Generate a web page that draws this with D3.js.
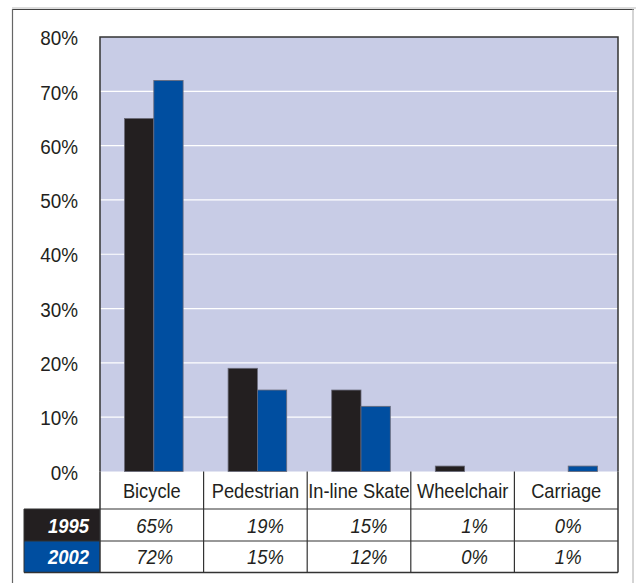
<!DOCTYPE html>
<html><head><meta charset="utf-8">
<script src="https://cdn.jsdelivr.net/npm/d3@7"></script>
<style>body{margin:0;background:#fff;}svg{display:block;font-family:"Liberation Sans",Arial,sans-serif;}</style>
</head><body>
<script>
const categories = ["Bicycle","Pedestrian","In-line Skate","Wheelchair","Carriage"];
const years = ["1995","2002"];
const values1995 = [65,19,15,1,0];
const values2002 = [72,15,12,0,1];
const yTicks = [0,10,20,30,40,50,60,70,80];
const colors = {"1995":"#231f20","2002":"#004ea0"};

const W=636,H=583;
const svg=d3.select("body").append("svg").attr("width",W).attr("height",H);
const L=100,R=618,T=37,B=471.5;
const x=d3.scaleBand().domain(categories).range([L,R]);
const xi=d3.scaleBand().domain(years).range([0,58.6]);
const y=d3.scaleLinear().domain([0,80]).range([B,T]);
const SX=0.9, FS=21;
function place(sel, fx, fy, sx){
  sel.attr("transform",(d,i)=>`translate(${fx(d,i)},${fy(d,i)}) scale(${sx||SX},1)`);
  return sel;
}

// outer frame
svg.append("line").attr("x1",12).attr("x2",636).attr("y1",8).attr("y2",8).attr("stroke","#bbb").attr("stroke-width",1);
svg.append("line").attr("x1",12).attr("x2",634).attr("y1",9.5).attr("y2",9.5).attr("stroke","#444").attr("stroke-width",1.2);
svg.append("line").attr("x1",12.5).attr("x2",12.5).attr("y1",9).attr("y2",H).attr("stroke","#666").attr("stroke-width",1.2);
svg.append("line").attr("x1",633).attr("x2",633).attr("y1",9).attr("y2",H).attr("stroke","#aaa").attr("stroke-width",1);

// plot bg
svg.append("rect").attr("x",L).attr("y",T).attr("width",R-L).attr("height",B-T).attr("fill","#c8cce6");
// gridlines
svg.append("g").selectAll("line").data(yTicks.filter(d=>d>0&&d<80)).join("line")
  .attr("x1",L).attr("x2",R).attr("y1",d=>y(d)).attr("y2",d=>y(d)).attr("stroke","#fff").attr("stroke-width",1.2);

// bars
const series=[{year:"1995",vals:values1995},{year:"2002",vals:values2002}];
series.forEach(s=>{
  svg.append("g").selectAll("rect").data(categories).join("rect")
    .attr("x",(c)=>x(c)+24.5+xi(s.year))
    .attr("y",(c,i)=>y(s.vals[i]))
    .attr("width",xi.bandwidth())
    .attr("height",(c,i)=>B-y(s.vals[i]))
    .attr("fill",colors[s.year])
    .attr("stroke","#6a6a78").attr("stroke-width",0.8);
});

// plot frame
svg.append("path").attr("d",`M${L},${B}V${T}H${R}V${B}`).attr("fill","none").attr("stroke","#333").attr("stroke-width",1.5);

// y axis labels
const yAxis=d3.axisLeft(y).tickValues(yTicks).tickFormat(d=>d+"%").tickSize(0).tickPadding(0);
const ga=svg.append("g").attr("class","yaxis").call(yAxis);
ga.select(".domain").remove();
ga.selectAll(".tick").attr("transform",d=>`translate(78,${y(d)+1.5}) scale(${SX},1)`);
ga.selectAll("text").attr("x",0).attr("font-size",FS).attr("fill","#231f20").attr("font-family","Liberation Sans, Arial, sans-serif");

// table
const r0=B, r1=509, r2=541, r3=572.5, hx=24;
const tbl=svg.append("g");
tbl.append("rect").attr("x",hx).attr("y",r1).attr("width",L-hx).attr("height",r2-r1).attr("fill",colors["1995"]);
tbl.append("rect").attr("x",hx).attr("y",r2).attr("width",L-hx).attr("height",r3-r2).attr("fill",colors["2002"]);
place(tbl.selectAll("text.yr").data(years).join("text").attr("class","yr"),
  ()=>89,(d,i)=>(i?(r2+r3)/2:(r1+r2)/2)+7.5)
  .attr("text-anchor","end").attr("fill","#fff").attr("font-weight","bold").attr("font-style","italic").attr("font-size",20.5)
  .text(d=>d);
const lc="#333";
tbl.append("line").attr("x1",hx).attr("x2",R).attr("y1",r1).attr("y2",r1).attr("stroke",lc).attr("stroke-width",1.2);
tbl.append("line").attr("x1",hx).attr("x2",R).attr("y1",r2).attr("y2",r2).attr("stroke",lc).attr("stroke-width",1.2);
tbl.append("line").attr("x1",hx).attr("x2",R).attr("y1",r3).attr("y2",r3).attr("stroke",lc).attr("stroke-width",1.5);
tbl.append("line").attr("x1",hx).attr("x2",hx).attr("y1",r1).attr("y2",r3).attr("stroke",lc).attr("stroke-width",1);
tbl.selectAll("line.v").data(categories.slice(1)).join("line").attr("class","v")
  .attr("x1",c=>x(c)).attr("x2",c=>x(c)).attr("y1",r0).attr("y2",r3).attr("stroke",lc).attr("stroke-width",1.2);
tbl.append("line").attr("x1",L).attr("x2",L).attr("y1",r0).attr("y2",r3).attr("stroke",lc).attr("stroke-width",1.5);
tbl.append("line").attr("x1",R).attr("x2",R).attr("y1",r0).attr("y2",r3).attr("stroke",lc).attr("stroke-width",1.5);
// category labels
place(tbl.selectAll("text.cat").data(categories).join("text").attr("class","cat"),
  c=>x(c)+x.bandwidth()/2, ()=>(r0+r1)/2+7.5, 0.87)
  .attr("text-anchor","middle").attr("font-size",FS).attr("fill","#231f20").text(c=>c);
// values
const offs=[3,10,10,12,2];
series.forEach((s,k)=>{
  place(tbl.append("g").selectAll("text").data(categories).join("text"),
    (c,i)=>x(c)+x.bandwidth()/2+offs[i], ()=>(k?(r2+r3)/2:(r1+r2)/2)+7.5)
    .attr("text-anchor","middle").attr("font-style","italic").attr("font-size",20.5).attr("fill","#231f20")
    .text((c,i)=>s.vals[i]+"%");
});
</script>
</body></html>
